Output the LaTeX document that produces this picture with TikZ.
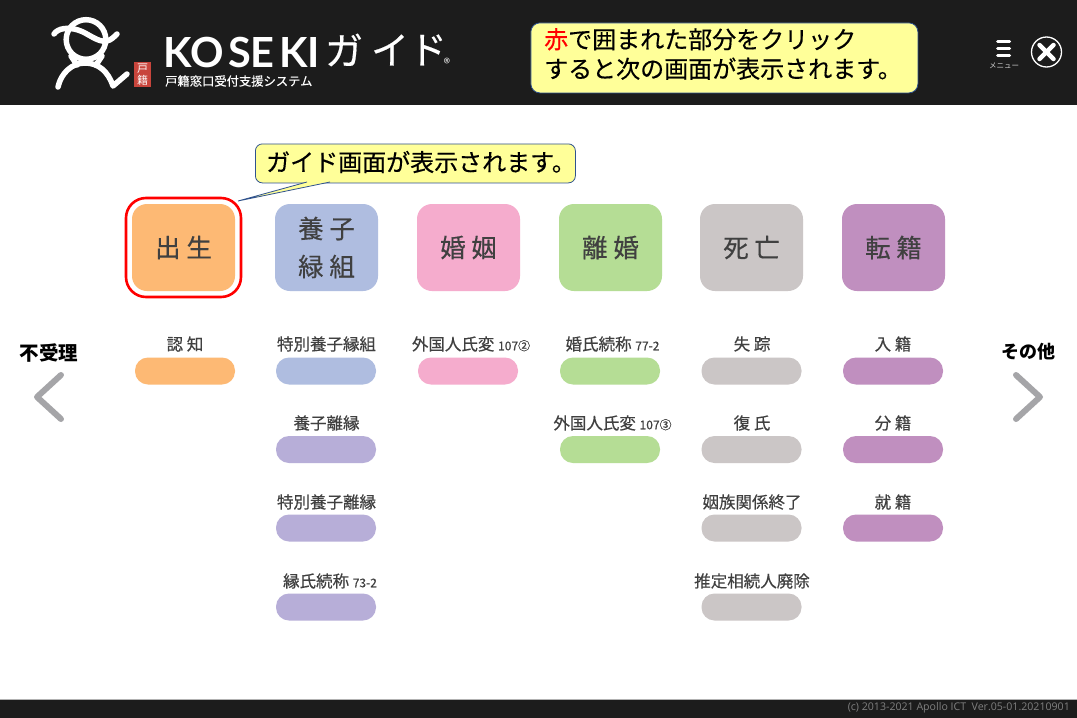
\documentclass[tikz,border=0pt]{standalone}
\usepackage{fontspec}
\setmainfont{Noto Sans CJK JP}
\newfontfamily\medfont[FakeBold=0.4]{Noto Sans CJK JP}
\newfontfamily\logofont{Lato}
\newfontfamily\footfont{Open Sans}
\definecolor{barblack}{HTML}{1C1C1C}
\definecolor{notefill}{HTML}{FFFF99}
\definecolor{noteline}{HTML}{2F528F}
\definecolor{inkgrey}{HTML}{404040}
\definecolor{arrowgrey}{HTML}{A5A5A8}
\definecolor{sealred}{HTML}{C8453C}
\definecolor{birthc}{HTML}{FDB974}
\definecolor{adoptc}{HTML}{AFBDE0}
\definecolor{adoptd}{HTML}{B7AED8}
\definecolor{marryc}{HTML}{F5ACCD}
\definecolor{divorcec}{HTML}{B5DD95}
\definecolor{deathc}{HTML}{CBC6C6}
\definecolor{transc}{HTML}{C08FBF}
\newcommand{\refnum}[1]{{\fontsize{12}{14}\selectfont #1}}
\begin{document}
\begin{tikzpicture}[x=1pt,y=-1pt]
    % Define the styles for the blocks
    \tikzset{tile/.style={rectangle, rounded corners=15pt, minimum width=103pt, minimum height=87pt, inner sep=0pt, text=inkgrey, font=\medfont\fontsize{25.5}{38}\selectfont, align=center}}
    \tikzset{pill/.style={rectangle, rounded corners=13pt, minimum width=100pt, minimum height=27pt, inner sep=0pt}}
    \tikzset{caption/.style={inner sep=0pt, text=inkgrey, font=\medfont\fontsize{16.5}{18}\selectfont}}
    \tikzset{side/.style={inner sep=0pt, font=\bfseries\fontsize{18}{20}\selectfont}}
    \tikzset{note/.style={rectangle, rounded corners=9pt, draw=noteline, fill=notefill, line width=0.8pt, inner sep=0pt, text=black, anchor=north west}}
    \tikzset{notetext/.style={inner sep=0pt, anchor=west, align=left, font=\medfont\fontsize{24}{29.5}\selectfont}}
    \tikzset{chevron/.style={draw=arrowgrey, line width=6pt, line cap=round, line join=round}}
    \tikzset{mascot/.style={draw=white, line width=5.5pt, line cap=round, line join=round}}
    \tikzset{logotext/.style={inner sep=0pt, text=white, anchor=west, font=\logofont\bfseries\fontsize{41.5}{41}\selectfont}}
    \tikzset{guidekana/.style={inner sep=0pt, text=white, font=\medfont\fontsize{38}{38}\selectfont}}

    \useasboundingbox (0,0) rectangle (1077,718);

    % Header and footer bars
    \fill[white] (0,0) rectangle (1077,718);
    \fill[barblack] (0,0) rectangle (1077,105);
    \fill[barblack] (0,700) rectangle (1077,718);
    \draw[gray!60, line width=0.8pt] (0,699.6) -- (1077,699.6);

    % Draw the mascot
    \draw[mascot] (86,39.5) circle (19.8);
    \draw[mascot] (54,34) .. controls (58,28) and (68,27) .. (78,30) .. controls (88,33) and (98,43) .. (107,41) .. controls (111,40) and (114,37) .. (117,34);
    \draw[mascot] (71,56) -- (77,65);
    \draw[mascot] (102,56) -- (96,65);
    \draw[mascot] (58,87) .. controls (61,73) and (72,63) .. (85,63) .. controls (98,63) and (108,71) .. (113,86) -- (127,74);

    % Draw the seal and the logo text
    \node[rectangle, fill=sealred, minimum width=17pt, minimum height=25pt, inner sep=0pt, text=white, font=\fontsize{11}{12.5}\selectfont, align=center] (seal) at (142.5,74.5) {戸\\籍};
    \node[logotext] (kosekiko) at (163,52) {KO};
    \node[logotext] (kosekise) at (228,52) {SE};
    \node[logotext] (kosekiki) at (279,52) {KI};
    \node[guidekana] (guide1) at (344,50) {ガ};
    \node[guidekana] (guide2) at (390,50) {イ};
    \node[guidekana] (guide3) at (428,50) {ド};
    \node[inner sep=0pt, text=white, font=\fontsize{13}{13}\selectfont] (regmark) at (447,63) {®};
    \node[inner sep=0pt, text=white, anchor=west, font=\medfont\fontsize{12.3}{14}\selectfont] (subtitle) at (165,81) {戸籍窓口受付支援システム};

    % Draw the menu and close icons
    \draw[white, line width=3pt, line cap=round] (997.5,41) -- (1009.5,41);
    \draw[white, line width=3pt, line cap=round] (997.5,48) -- (1009.5,48);
    \draw[white, line width=3pt, line cap=round] (997.5,55) -- (1009.5,55);
    \node[inner sep=0pt, text=white!80!black, font=\fontsize{7.5}{8}\selectfont] (menu) at (1004,66) {メニュー};
    \node[circle, draw=white, line width=1.3pt, minimum size=30pt, inner sep=0pt] (close) at (1046.5,52) {};
    \draw[white, line width=4.5pt, line cap=round] (1039.5,45) -- (1053.5,59);
    \draw[white, line width=4.5pt, line cap=round] (1053.5,45) -- (1039.5,59);

    % Place the notes
    \node[note, minimum width=387pt, minimum height=70pt] (topnote) at (530.5,22.5) {};
    \node[notetext] (toptext) at (544,54) {\textcolor{red}{赤}で囲まれた部分をクリック\\すると次の画面が表示されます。};

    \coordinate (tailleft) at (307,182);
    \coordinate (tailright) at (330,182);
    \coordinate (tailtip) at (238,201);
    \node[note, rounded corners=7pt, minimum width=320pt, minimum height=39pt] (guidenote) at (255,143.5) {};
    \draw[noteline, fill=notefill, line width=0.8pt] (tailleft) -- (tailtip) -- (tailright);
    \node[notetext] (guidetext) at (266,162) {ガイド画面が表示されます。};

    % Place the main tiles
    \node[tile, fill=birthc] (birth) at (183.5,247.5) {出 生};
    \node[tile, fill=adoptc] (adopt) at (326.5,247.5) {養 子\\緑 組};
    \node[tile, fill=marryc] (marry) at (468.5,247.5) {婚 姻};
    \node[tile, fill=divorcec] (divorce) at (610.5,247.5) {離 婚};
    \node[tile, fill=deathc] (death) at (751.5,247.5) {死 亡};
    \node[tile, fill=transc] (trans) at (893.5,247.5) {転 籍};
    \node[rectangle, rounded corners=20pt, draw=red, line width=2.6pt, minimum width=115pt, minimum height=99pt, inner sep=0pt] (birthmark) at (183.5,247.5) {};

    % Draw the first column
    \node[caption] (ninchi) at (185,344) {認 知};
    \node[pill, fill=birthc] (ninchipill) at (185,371) {};

    % Draw the second column
    \node[caption] (tokuyoshi) at (326.5,344) {特別養子縁組};
    \node[pill, fill=adoptc] (tokuyoshipill) at (326,371) {};
    \node[caption] (rien) at (326.5,423) {養子離縁};
    \node[pill, fill=adoptd] (rienpill) at (326,449.5) {};
    \node[caption] (tokurien) at (326.5,502) {特別養子離縁};
    \node[pill, fill=adoptd] (tokurienpill) at (326,528) {};
    \node[caption] (enshi) at (330,581) {縁氏続称 \refnum{73-2}};
    \node[pill, fill=adoptd] (enshipill) at (326,607) {};

    % Draw the third column
    \node[caption] (gaikoku) at (471,344) {外国人氏変 \refnum{107②}};
    \node[pill, fill=marryc] (gaikokupill) at (468,371) {};

    % Draw the fourth column
    \node[caption] (konshi) at (612.5,344) {婚氏続称 \refnum{77-2}};
    \node[pill, fill=divorcec] (konshipill) at (610,371) {};
    \node[caption] (gaikokub) at (612.5,423) {外国人氏変 \refnum{107③}};
    \node[pill, fill=divorcec] (gaikokubpill) at (610,449.5) {};

    % Draw the fifth column
    \node[caption] (shisso) at (752,344) {失 踪};
    \node[pill, fill=deathc] (shissopill) at (751.5,371) {};
    \node[caption] (fukushi) at (752,423) {復 氏};
    \node[pill, fill=deathc] (fukushipill) at (751.5,449.5) {};
    \node[caption] (inzoku) at (752,502) {姻族関係終了};
    \node[pill, fill=deathc] (inzokupill) at (751.5,528) {};
    \node[caption] (suitei) at (752,581) {推定相続人廃除};
    \node[pill, fill=deathc] (suiteipill) at (751.5,607) {};

    % Draw the sixth column
    \node[caption] (nyuseki) at (893,344) {入 籍};
    \node[pill, fill=transc] (nyusekipill) at (893,371) {};
    \node[caption] (bunseki) at (893,423) {分 籍};
    \node[pill, fill=transc] (bunsekipill) at (893,449.5) {};
    \node[caption] (shuseki) at (893,502) {就 籍};
    \node[pill, fill=transc] (shusekipill) at (893,528) {};

    % Side arrows
    \node[side, font=\bfseries\fontsize{19.5}{20}\selectfont] (refuse) at (49,353) {不受理};
    \draw[chevron] (61,375) -- (37,397) -- (61,419);
    \node[side] (other) at (1028,352) {その他};
    \draw[chevron] (1016,375) -- (1040,397) -- (1016,419);

    % Footer text
    \node[inner sep=0pt, anchor=east, text=gray, font=\footfont\fontsize{10.6}{10}\selectfont] (version) at (1070,708) {(c) 2013-2021 Apollo ICT~~Ver.05-01.20210901};
\end{tikzpicture}
\end{document}
